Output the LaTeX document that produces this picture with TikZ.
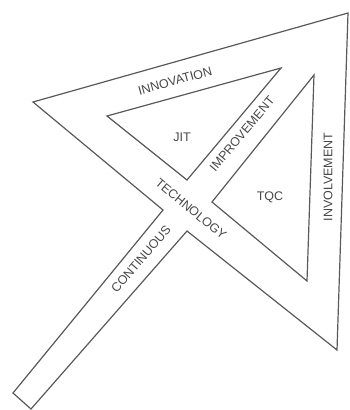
\documentclass[tikz,border=0pt]{standalone}
\usepackage{fontspec}
\setmainfont{Liberation Sans}
\begin{document}
\begin{tikzpicture}[x=1pt,y=-1pt,
  outline/.style={draw=black!65,line width=1.2pt,line join=miter},
  lbl/.style={text=black!72,font=\fontsize{12.5}{14}\selectfont,inner sep=0pt}]
\useasboundingbox (0,0) rectangle (349,410);
% outer frame with handle
\coordinate (sl) at (163,210);
\coordinate (ol) at (33,102);
\coordinate (otr) at (348,13);
\coordinate (ob) at (337,350);
\coordinate (sr) at (187,231);
\coordinate (er) at (31,409);
\coordinate (el) at (13,393);
\draw[outline] (sl) -- (ol) -- (otr) -- (ob) -- (sr) -- (er) -- (el) -- cycle;
% JIT triangle
\coordinate (j1) at (107,116);
\coordinate (j2) at (281,68);
\coordinate (j3) at (187,180);
\draw[outline] (j1) -- (j2) -- (j3) -- cycle;
% TQC triangle
\coordinate (t1) at (314,75);
\coordinate (t2) at (212,202);
\coordinate (t3) at (307,281);
\draw[outline] (t1) -- (t2) -- (t3) -- cycle;
% labels
\node[lbl,rotate=15.5] (innov) at (175,81) {INNOVATION};
\node[lbl] (jit) at (182,137) {JIT};
\node[lbl,rotate=50] (improv) at (242,134) {IMPROVEMENT};
\node[lbl] (tqc) at (270,197) {TQC};
\node[lbl,rotate=90] (involv) at (328,177) {INVOLVEMENT};
\node[lbl,rotate=-39.5] (tech) at (191,209) {TECHNOLOGY};
\node[lbl,rotate=49.5] (cont) at (141,259) {CONTINUOUS};
\end{tikzpicture}
\end{document}
